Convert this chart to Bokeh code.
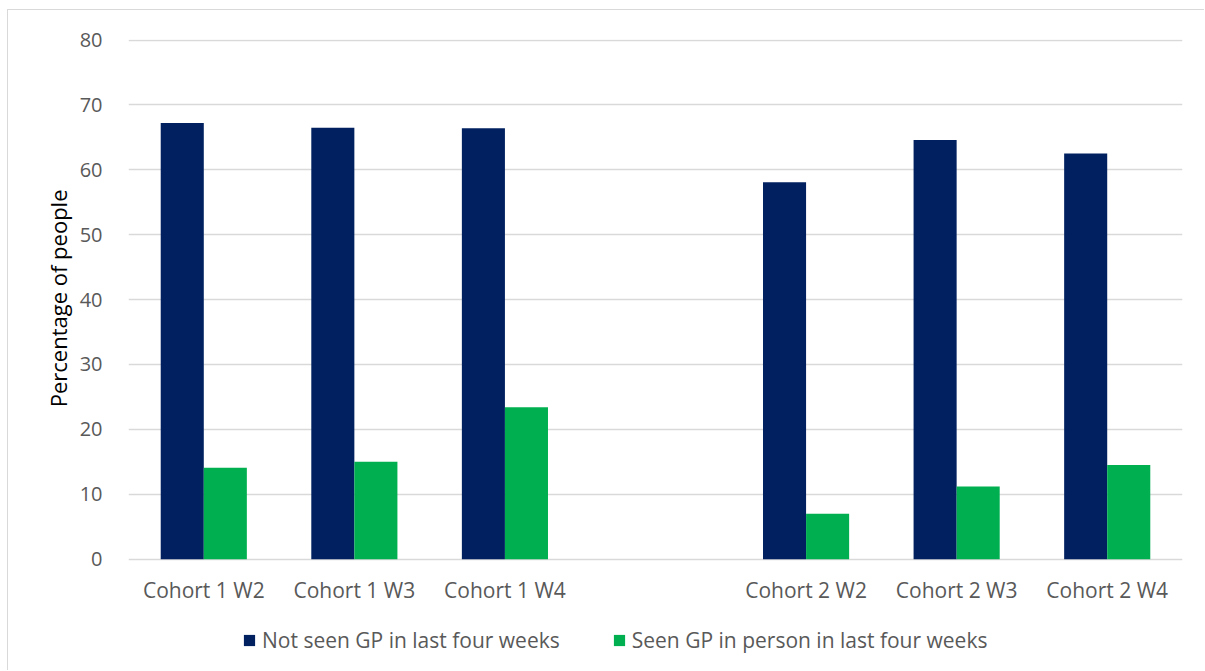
from bokeh.plotting import figure
from bokeh.models import ColumnDataSource, Legend, LegendItem, FactorRange, FixedTicker, Title
from bokeh.core.properties import value
from bokeh.transform import dodge
from bokeh.embed import file_html
from bokeh.resources import INLINE

categories = ["Cohort 1 W2", "Cohort 1 W3", "Cohort 1 W4", " ",
              "Cohort 2 W2", "Cohort 2 W3", "Cohort 2 W4"]
not_seen = [67.2, 66.5, 66.4, None, 58.1, 64.6, 62.5]
seen_in_person = [14.1, 15.0, 23.4, None, 7.0, 11.2, 14.5]
series_names = ["Not seen GP in last four weeks", "Seen GP in person in last four weeks"]
y_ticks = [0, 10, 20, 30, 40, 50, 60, 70, 80]
y_title = "Percentage of people"

FONT = "Open Sans"
GRAY = "#595959"

src = ColumnDataSource(dict(cat=categories,
                            a=[v if v is not None else float("nan") for v in not_seen],
                            b=[v if v is not None else float("nan") for v in seen_in_person],
                            zero=[0] * len(categories)))

p = figure(x_range=FactorRange(*categories, range_padding=0), y_range=(-17.31, 80.08),
           width=1197, height=661, output_backend="svg", toolbar_location=None,
           x_axis_location=None,
           min_border_left=120, min_border_right=23, min_border_top=29, min_border_bottom=0)
p.styles = {"margin-left": "7px", "margin-top": "9px",
            "border-left": "1px solid #d9d9d9", "border-top": "1px solid #d9d9d9"}
p.outline_line_color = None

w = 0.286
r1 = p.vbar(x=dodge("cat", -w / 2, range=p.x_range), top="a", width=w, source=src,
            fill_color="#002060", line_color=None)
r2 = p.vbar(x=dodge("cat", w / 2, range=p.x_range), top="b", width=w, source=src,
            fill_color="#00B050", line_color=None)

# category labels under the baseline
p.text(x="cat", y="zero", text="cat", source=src, y_offset=31,
       text_align="center", text_baseline="middle",
       text_font=value(FONT), text_font_size="21px", text_color=GRAY)

p.yaxis.ticker = FixedTicker(ticks=y_ticks)
p.yaxis.axis_line_color = None
p.yaxis.major_tick_line_color = None
p.yaxis.minor_tick_line_color = None
p.yaxis.major_label_standoff = 20
p.yaxis.major_label_text_font = FONT
p.yaxis.major_label_text_font_size = "20px"
p.yaxis.major_label_text_color = GRAY

ytitle = Title(text=y_title, align="right", offset=150, standoff=8,
               text_font=FONT, text_font_size="22px", text_font_style="normal",
               text_color="#000000")
p.add_layout(ytitle, "left")

p.xgrid.grid_line_color = None
p.ygrid.grid_line_color = "#d9d9d9"
p.ygrid.grid_line_width = 1.5

legend = Legend(items=[LegendItem(label=series_names[0], renderers=[r1]),
                       LegendItem(label=series_names[1], renderers=[r2])],
                orientation="horizontal", location=(114, 17),
                label_text_font=FONT, label_text_font_size="21px", label_text_color=GRAY,
                glyph_width=14, glyph_height=14, spacing=52, padding=0, margin=0,
                label_standoff=6, border_line_color=None, background_fill_alpha=0)
p.add_layout(legend, "center")

open("out.html", "w").write(file_html(p, INLINE))
